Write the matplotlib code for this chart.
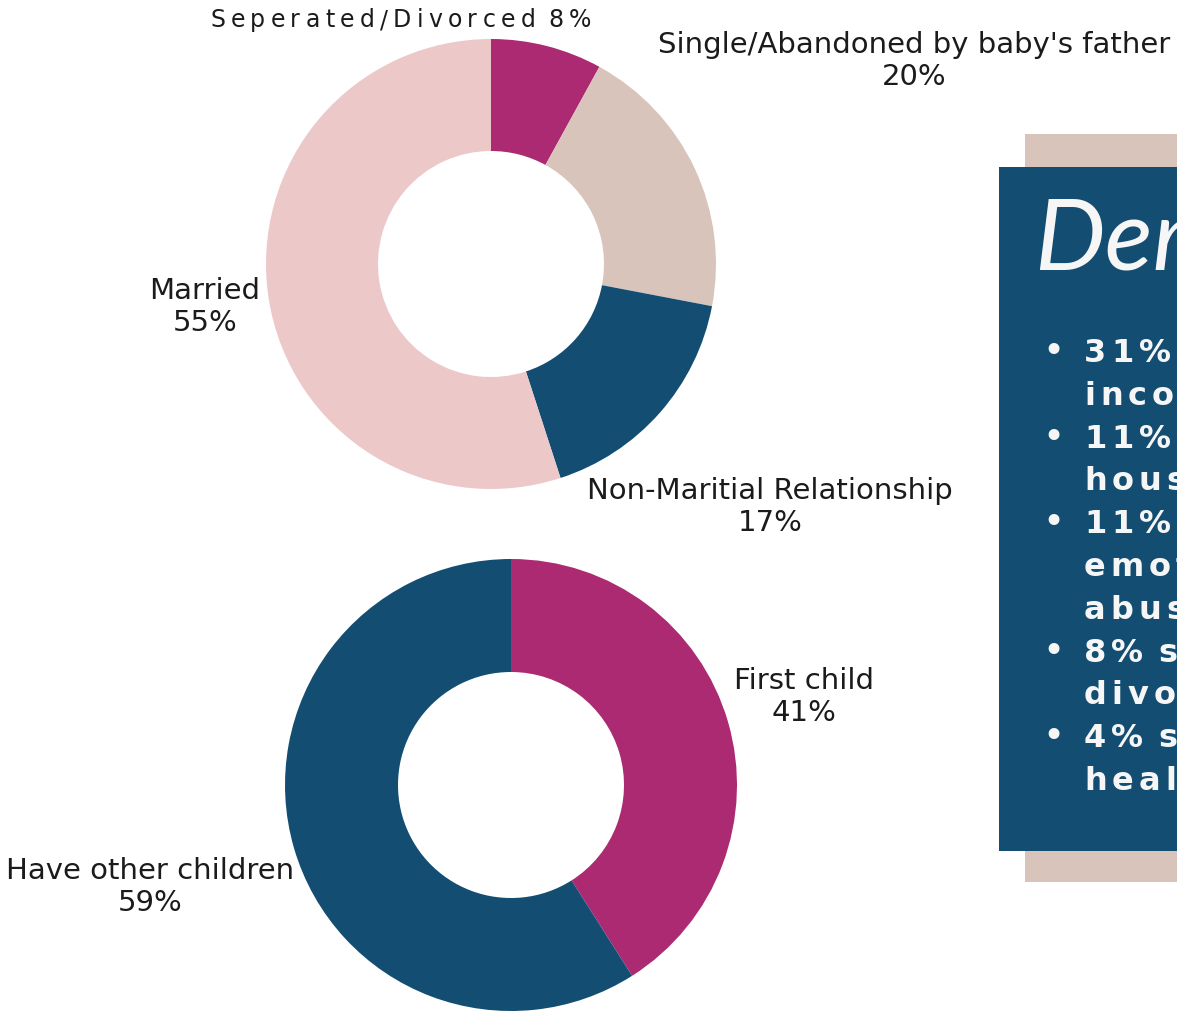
import matplotlib
matplotlib.use("Agg")
import matplotlib.pyplot as plt
from matplotlib.patches import Rectangle

# =========================
# DATA
# =========================
status_labels = ["Seperated/Divorced", "Single/Abandoned by baby's father",
                 "Non-Maritial Relationship", "Married"]
status_values = [8, 20, 17, 55]
status_colors = ["#AB2A72", "#D8C4BA", "#134E72", "#EDC8C9"]

child_labels = ["First child", "Have other children"]
child_values = [41, 59]
child_colors = ["#AB2A72", "#134E72"]

panel_title = "Demographics"
panel_lines = [
    "31% cited low", "income", "11% cited", "housing", "11% cited",
    "emotional/physical", "abuse", "8% separated/", "divorced",
    "4% self", "health",
]
bullet_rows = [0, 2, 4, 7, 9]

TEXT = "#1b1b1b"
WHITE = "#F6F6F6"

# =========================
# FIGURE (pixel-like coordinates, y up)
# =========================
W, H = 1177, 1012
fig = plt.figure(figsize=(W / 100, H / 100), dpi=100)
ax = fig.add_axes([0, 0, 1, 1])
renderer = fig.canvas.get_renderer()


def spaced_text(x, y, s, track, size, **kw):
    # draw one char at a time to get letter spacing
    for ch in s:
        if ch == " ":
            x += size * 0.45
            continue
        t = ax.text(x, y, ch, ha="left", va="baseline", fontsize=size, **kw)
        x += t.get_window_extent(renderer).width + track


# =========================
# DONUTS
# =========================
ax.pie(status_values, colors=status_colors, startangle=90, counterclock=False,
       center=(491, H - 265), radius=225, frame=True,
       wedgeprops=dict(width=112, linewidth=0))
ax.pie(child_values, colors=child_colors, startangle=90, counterclock=False,
       center=(511, H - 786), radius=226, frame=True,
       wedgeprops=dict(width=113, linewidth=0))

lab = dict(fontsize=21, color=TEXT, ha="center", va="center",
           linespacing=1.2, family="DejaVu Sans")

spaced_text(210, H - 27, f"{status_labels[0]} {status_values[0]}%", 5.3, 17,
            color=TEXT, family="DejaVu Sans")
ax.text(914, H - 61, f"{status_labels[1]}\n{status_values[1]}%", **lab)
ax.text(770, H - 507, f"{status_labels[2]}\n{status_values[2]}%", **lab)
ax.text(205, H - 307, f"{status_labels[3]}\n{status_values[3]}%", **lab)

ax.text(804, H - 697, f"{child_labels[0]}\n{child_values[0]}%", **lab)
ax.text(150, H - 887, f"{child_labels[1]}\n{child_values[1]}%", **lab)

# =========================
# SIDE PANEL
# =========================
ax.add_patch(Rectangle((1025, H - 883), 300, 748, color="#D8C4BA", lw=0))
ax.add_patch(Rectangle((999, H - 852), 300, 684, color="#134E72", lw=0))

ax.text(1034, H - 270, panel_title, fontsize=72, color=WHITE,
        family="Lato", style="italic", fontweight="normal",
        ha="left", va="baseline")

for i, line in enumerate(panel_lines):
    base = H - (362 + i * 42.8)
    if i in bullet_rows:
        ax.text(1053, base + 9, "\u2022", fontsize=27, color=WHITE,
                ha="center", va="center", family="DejaVu Sans")
    spaced_text(1084, base, line, 5, 23, color=WHITE,
                family="DejaVu Sans", fontweight="bold")

ax.set_xlim(0, W)
ax.set_ylim(0, H)
ax.set_aspect("auto")
ax.axis("off")

fig.savefig("out.png", dpi=100)
